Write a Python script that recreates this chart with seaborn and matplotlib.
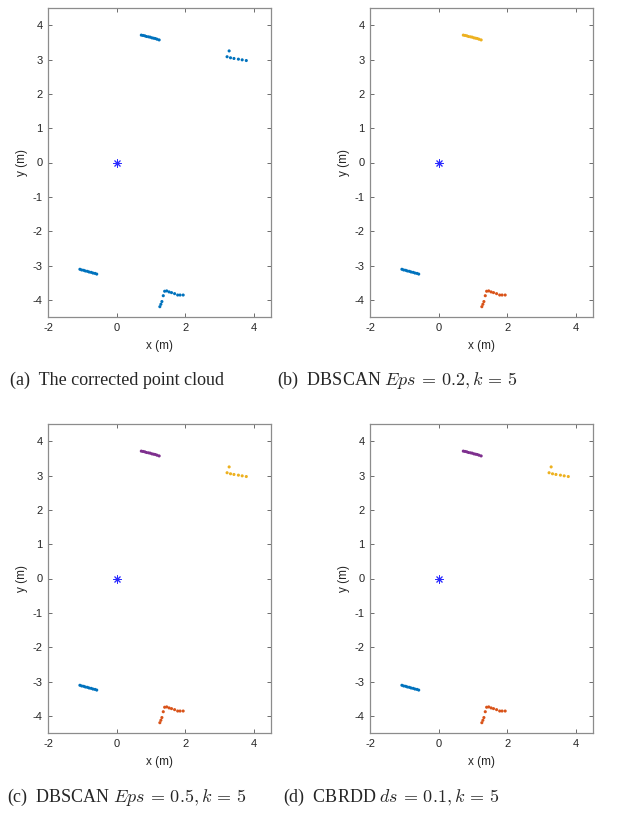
import pandas as pd
import matplotlib
matplotlib.use('Agg')
import matplotlib.pyplot as plt
import seaborn as sns

sns.set_style('white')
plt.rcParams['font.family'] = ['Liberation Sans', 'DejaVu Sans']
plt.rcParams['mathtext.fontset'] = 'cm'
plt.rcParams['axes.unicode_minus'] = False

# point cloud segments (metres)
wall_a_x = [0.72, 0.77, 0.82, 0.87, 0.93, 0.98, 1.03, 1.08, 1.13, 1.18, 1.24]
wall_a_y = [3.71, 3.70, 3.69, 3.67, 3.66, 3.65, 3.63, 3.62, 3.61, 3.59, 3.57]

wall_b_x = [3.28, 3.22, 3.32, 3.42, 3.55, 3.66, 3.78]
wall_b_y = [3.25, 3.08, 3.05, 3.03, 3.01, 2.99, 2.97]

wall_c_x = [-1.07, -1.02, -0.96, -0.91, -0.85, -0.80, -0.74, -0.69, -0.63, -0.58]
wall_c_y = [-3.11, -3.13, -3.14, -3.16, -3.17, -3.19, -3.20, -3.22, -3.23, -3.25]

wall_d_x = [1.26, 1.29, 1.32, 1.36, 1.40, 1.46, 1.53, 1.60, 1.69, 1.78, 1.85, 1.94]
wall_d_y = [-4.20, -4.13, -4.05, -3.88, -3.75, -3.74, -3.77, -3.79, -3.82, -3.86, -3.86, -3.86]

sensor_x = [0.0]
sensor_y = [0.0]

segments = {'A': (wall_a_x, wall_a_y), 'B': (wall_b_x, wall_b_y),
            'C': (wall_c_x, wall_c_y), 'D': (wall_d_x, wall_d_y)}

# cluster colour per segment in each panel (None = noise, not drawn)
blue, orange, yellow, purple = '#0072BD', '#D95319', '#EDB120', '#7E2F8E'
panel_colors = [
    {'A': blue, 'B': blue, 'C': blue, 'D': blue},
    {'A': yellow, 'B': None, 'C': blue, 'D': orange},
    {'A': purple, 'B': yellow, 'C': blue, 'D': orange},
    {'A': purple, 'B': yellow, 'C': blue, 'D': orange},
]
captions = [
    r'(a)  The corrected point cloud',
    r'(b)  DBSCAN $Eps\,=\,0.2, k\,=\,5$',
    r'(c)  DBSCAN $Eps\,=\,0.5, k\,=\,5$',
    r'(d)  CBRDD $ds\,=\,0.1, k\,=\,5$',
]

W, H = 633, 815
fig = plt.figure(figsize=(W / 100, H / 100), dpi=100)

ax_left = [48, 370]
ax_top = [8, 424]
ax_w, ax_h = 223, 309
cap_left = [[10, 277], [7, 283]]
cap_y = [380, 797]

for i in range(4):
    r, c = divmod(i, 2)
    ax = fig.add_axes([ax_left[c] / W, 1 - (ax_top[r] + ax_h) / H, ax_w / W, ax_h / H])

    rows = []
    for name, (xs, ys) in segments.items():
        col = panel_colors[i][name]
        if col is None:
            continue
        for x, y in zip(xs, ys):
            rows.append({'x': x, 'y': y, 'seg': name})
    df = pd.DataFrame(rows)
    pal = {k: v for k, v in panel_colors[i].items() if v is not None}
    sns.scatterplot(data=df, x='x', y='y', hue='seg', palette=pal, s=5,
                    linewidth=0, legend=False, ax=ax, zorder=3)
    ax.scatter(sensor_x, sensor_y, marker=(8, 2, 0), color='#2a2aff', s=28,
               linewidths=0.7, zorder=4)

    ax.set_xlim(-2, 4.5)
    ax.set_ylim(-4.5, 4.5)
    ax.set_xticks([-2, 0, 2, 4])
    ax.set_yticks(range(-4, 5))
    ax.set_xlabel('x (m)', fontsize=8.5, color='#262626', labelpad=5)
    ax.set_ylabel('y (m)', fontsize=8.5, color='#262626', labelpad=3)
    ax.tick_params(direction='in', length=3, width=0.6, color='#555555',
                   labelsize=8, labelcolor='#262626', top=True, right=True,
                   bottom=True, left=True, pad=4)
    for sp in ax.spines.values():
        sp.set_color('#8c8c8c')
        sp.set_linewidth(0.9)

    fig.text(cap_left[r][c] / W, 1 - cap_y[r] / H, captions[i],
             fontsize=13, family='Liberation Serif', va='center', ha='left')

fig.savefig('out.png', dpi=100)
